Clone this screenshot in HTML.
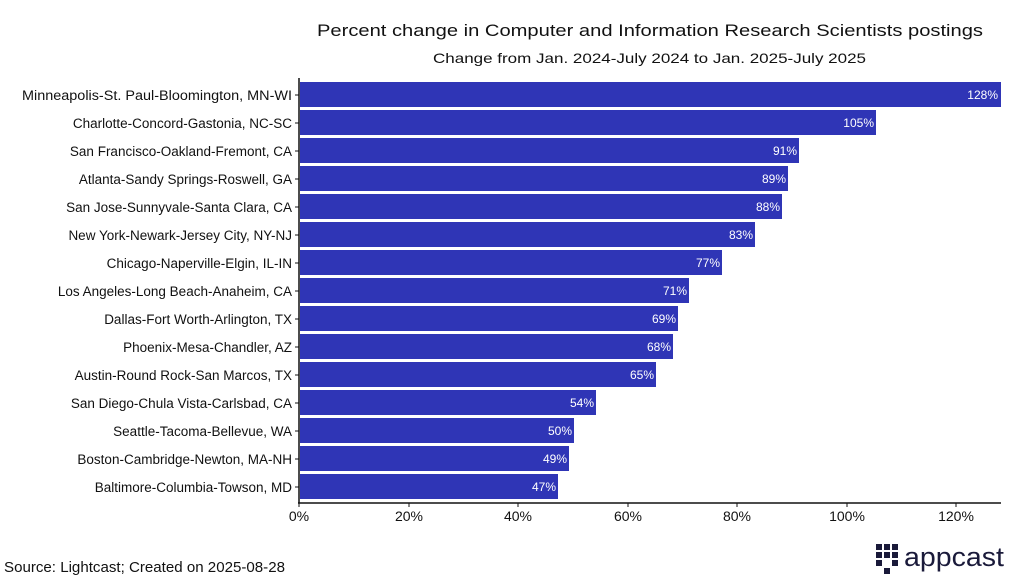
<!DOCTYPE html>
<html><head><meta charset="utf-8"><style>
html,body{margin:0;padding:0;background:#fff;}
svg text{font-family:"Liberation Sans",sans-serif;}
</style></head><body>
<svg width="1024" height="582" viewBox="0 0 1024 582" xmlns="http://www.w3.org/2000/svg">
<text x="317" y="36" font-size="17" textLength="666" lengthAdjust="spacingAndGlyphs" fill="#111">Percent change in Computer and Information Research Scientists postings</text>
<text x="433" y="63" font-size="14" textLength="433" lengthAdjust="spacingAndGlyphs" fill="#111">Change from Jan. 2024-July 2024 to Jan. 2025-July 2025</text>
<g fill="#2f35b6">
<rect x="300" y="82" width="701" height="25"/>
<rect x="300" y="110" width="576" height="25"/>
<rect x="300" y="138" width="499" height="25"/>
<rect x="300" y="166" width="488" height="25"/>
<rect x="300" y="194" width="482" height="25"/>
<rect x="300" y="222" width="455" height="25"/>
<rect x="300" y="250" width="422" height="25"/>
<rect x="300" y="278" width="389" height="25"/>
<rect x="300" y="306" width="378" height="25"/>
<rect x="300" y="334" width="373" height="25"/>
<rect x="300" y="362" width="356" height="25"/>
<rect x="300" y="390" width="296" height="25"/>
<rect x="300" y="418" width="274" height="25"/>
<rect x="300" y="446" width="269" height="25"/>
<rect x="300" y="474" width="258" height="25"/>
</g>
<g fill="#fff" font-size="12" text-anchor="end">
<text x="998" y="99">128%</text>
<text x="874" y="127">105%</text>
<text x="797" y="155">91%</text>
<text x="786" y="183">89%</text>
<text x="780" y="211">88%</text>
<text x="753" y="239">83%</text>
<text x="720" y="267">77%</text>
<text x="687" y="295">71%</text>
<text x="676" y="323">69%</text>
<text x="671" y="351">68%</text>
<text x="654" y="379">65%</text>
<text x="594" y="407">54%</text>
<text x="572" y="435">50%</text>
<text x="567" y="463">49%</text>
<text x="556" y="491">47%</text>
</g>
<g fill="#111" font-size="13.5" text-anchor="end">
<text x="292" y="100" textLength="270" lengthAdjust="spacingAndGlyphs">Minneapolis-St. Paul-Bloomington, MN-WI</text>
<text x="292" y="128">Charlotte-Concord-Gastonia, NC-SC</text>
<text x="292" y="156">San Francisco-Oakland-Fremont, CA</text>
<text x="292" y="184">Atlanta-Sandy Springs-Roswell, GA</text>
<text x="292" y="212">San Jose-Sunnyvale-Santa Clara, CA</text>
<text x="292" y="240">New York-Newark-Jersey City, NY-NJ</text>
<text x="292" y="268">Chicago-Naperville-Elgin, IL-IN</text>
<text x="292" y="296">Los Angeles-Long Beach-Anaheim, CA</text>
<text x="292" y="324">Dallas-Fort Worth-Arlington, TX</text>
<text x="292" y="352">Phoenix-Mesa-Chandler, AZ</text>
<text x="292" y="380">Austin-Round Rock-San Marcos, TX</text>
<text x="292" y="408">San Diego-Chula Vista-Carlsbad, CA</text>
<text x="292" y="436">Seattle-Tacoma-Bellevue, WA</text>
<text x="292" y="464">Boston-Cambridge-Newton, MA-NH</text>
<text x="292" y="492">Baltimore-Columbia-Towson, MD</text>
</g>
<g stroke="#111" stroke-width="1.5">
<line x1="299" y1="78" x2="299" y2="503"/>
<line x1="298" y1="503" x2="1001" y2="503"/>
</g>
<g stroke="#111" stroke-width="1">
<line x1="295" y1="95" x2="299" y2="95"/><line x1="295" y1="123" x2="299" y2="123"/><line x1="295" y1="151" x2="299" y2="151"/><line x1="295" y1="179" x2="299" y2="179"/><line x1="295" y1="207" x2="299" y2="207"/><line x1="295" y1="235" x2="299" y2="235"/><line x1="295" y1="263" x2="299" y2="263"/><line x1="295" y1="291" x2="299" y2="291"/><line x1="295" y1="319" x2="299" y2="319"/><line x1="295" y1="347" x2="299" y2="347"/><line x1="295" y1="375" x2="299" y2="375"/><line x1="295" y1="403" x2="299" y2="403"/><line x1="295" y1="431" x2="299" y2="431"/><line x1="295" y1="459" x2="299" y2="459"/><line x1="295" y1="487" x2="299" y2="487"/>
<line x1="299" y1="503" x2="299" y2="507"/><line x1="409" y1="503" x2="409" y2="507"/><line x1="518" y1="503" x2="518" y2="507"/><line x1="628" y1="503" x2="628" y2="507"/><line x1="737" y1="503" x2="737" y2="507"/><line x1="847" y1="503" x2="847" y2="507"/><line x1="956" y1="503" x2="956" y2="507"/>
</g>
<g fill="#111" font-size="14" text-anchor="middle">
<text x="299" y="521">0%</text><text x="409" y="521">20%</text><text x="518" y="521">40%</text><text x="628" y="521">60%</text><text x="737" y="521">80%</text><text x="847" y="521">100%</text><text x="956" y="521">120%</text>
</g>
<text x="4" y="572" font-size="14.5" textLength="281" lengthAdjust="spacingAndGlyphs" fill="#111">Source: Lightcast; Created on 2025-08-28</text>
<g fill="#1a1a3a">
<rect x="876" y="544" width="6" height="6"/><rect x="884" y="544" width="6" height="6"/><rect x="892" y="544" width="6" height="6"/>
<rect x="876" y="552" width="6" height="6"/><rect x="884" y="552" width="6" height="6"/><rect x="892" y="552" width="6" height="6"/>
<rect x="876" y="560" width="6" height="6"/><rect x="884" y="568" width="6" height="6"/><rect x="892" y="560" width="6" height="6"/>
</g>
<text x="904" y="566" font-size="27" textLength="100" lengthAdjust="spacingAndGlyphs" fill="#1a1a3a">appcast</text>
</svg>
</body></html>
